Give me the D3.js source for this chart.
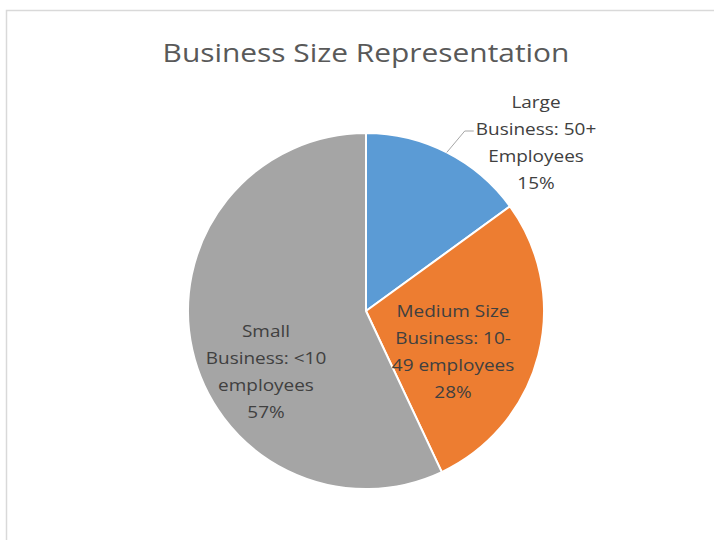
<!DOCTYPE html>
<html>
<head>
<meta charset="utf-8">
<script src="https://cdn.jsdelivr.net/npm/d3@7"></script>
<style>
  html, body { margin: 0; padding: 0; background: #fff; }
  svg { display: block; }
</style>
</head>
<body>
<svg id="chart" width="714" height="540"></svg>
<script>
// Share of businesses by size
const categories = [
  ["Large", "Business: 50+", "Employees"],
  ["Medium Size", "Business: 10-", "49 employees"],
  ["Small", "Business: <10", "employees"]
];
const shares = [15, 28, 57];
const colors = ["#5b9bd5", "#ed7d31", "#a5a5a5"];

// Label placement (first-line baseline centre) and which labels sit outside with a leader
const labelLayout = [
  { x: 536, y: 108, leader: true },
  { x: 453, y: 317, leader: false },
  { x: 266, y: 337, leader: false }
];

const svg = d3.select("#chart");
const cx = 366, cy = 311, R = 178;
const font = "'Open Sans', 'Noto Sans', sans-serif";
const stretch = 1.15; // slightly widened glyphs

// Chart area frame
svg.append("rect")
  .attr("x", 6.5).attr("y", 10.5)
  .attr("width", 900).attr("height", 900)
  .attr("fill", "#fff")
  .attr("stroke", "#d9d9d9")
  .attr("stroke-width", 1.5);

// Title
svg.append("text")
  .attr("transform", `translate(${cx},62) scale(${stretch},1)`)
  .attr("text-anchor", "middle")
  .attr("font-family", font)
  .attr("font-size", 26)
  .attr("fill", "#595959")
  .text("Business Size Representation");

const pie = d3.pie().sort(null).value(d => d)(shares);
const arc = d3.arc().innerRadius(0).outerRadius(R);
const edge = d3.arc().innerRadius(R).outerRadius(R);

const g = svg.append("g").attr("transform", `translate(${cx},${cy})`);

g.selectAll("path.slice")
  .data(pie)
  .join("path")
  .attr("class", "slice")
  .attr("d", arc)
  .attr("fill", (d, i) => colors[i])
  .attr("stroke", "#fff")
  .attr("stroke-width", 2)
  .attr("stroke-linejoin", "round");

const lineH = 27;
const labels = svg.append("g");

pie.forEach((d, i) => {
  const lay = labelLayout[i];
  const lines = categories[i].concat([shares[i] + "%"]);
  const t = labels.append("text")
    .attr("transform", `translate(${lay.x},0) scale(${stretch},1)`)
    .attr("text-anchor", "middle")
    .attr("font-family", font)
    .attr("font-size", 16.5)
    .attr("fill", "#404040");
  lines.forEach((s, k) => {
    t.append("tspan").attr("x", 0).attr("y", lay.y + k * lineH).text(s);
  });

  if (lay.leader) {
    const [ex, ey] = edge.centroid(d);
    const bbox = t.node().getBBox();
    const ly = lay.y + lineH - 4;
    const lx = lay.x + bbox.x * stretch - 2;
    svg.append("polyline")
      .attr("points", [[cx + ex, cy + ey], [lx - 9, ly], [lx, ly]].map(p => p.join(",")).join(" "))
      .attr("fill", "none")
      .attr("stroke", "#a6a6a6")
      .attr("stroke-width", 1);
  }
});
</script>
</body>
</html>
